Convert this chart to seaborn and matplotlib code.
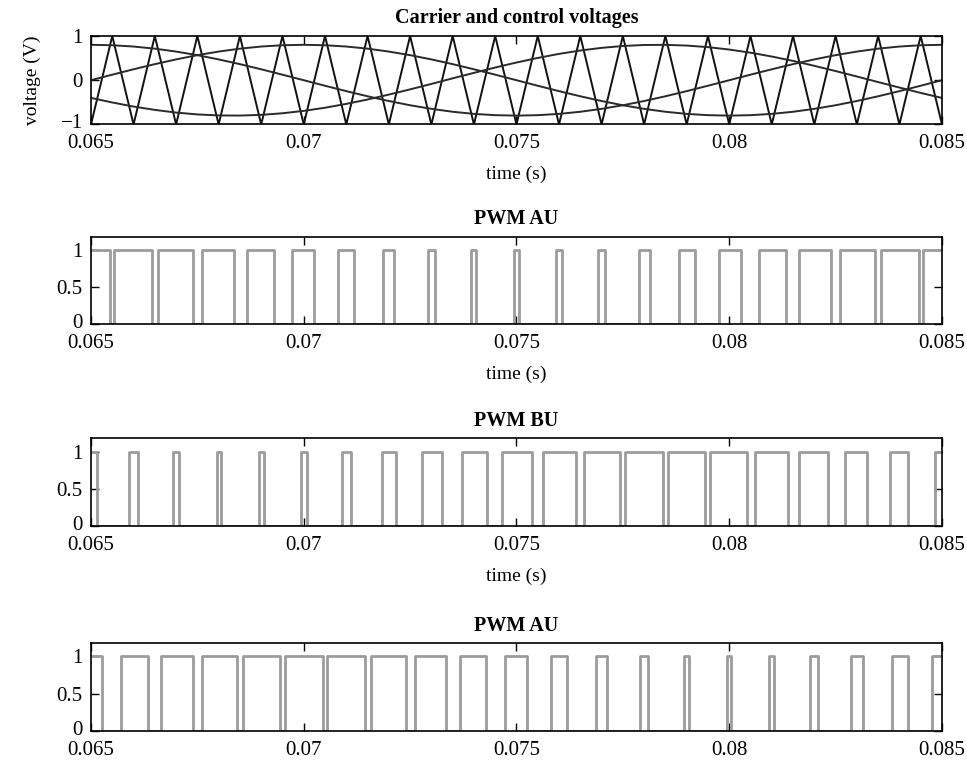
import numpy as np
import matplotlib
matplotlib.use("Agg")
import matplotlib.pyplot as plt
import matplotlib.transforms as mtransforms
import seaborn as sns

# time grid of the carrier corners and control samples (ms)
t_ms = [65.0, 65.5, 66.0, 66.5, 67.0, 67.5, 68.0, 68.5, 69.0, 69.5,
        70.0, 70.5, 71.0, 71.5, 72.0, 72.5, 73.0, 73.5, 74.0, 74.5,
        75.0, 75.5, 76.0, 76.5, 77.0, 77.5, 78.0, 78.5, 79.0, 79.5,
        80.0, 80.5, 81.0, 81.5, 82.0, 82.5, 83.0, 83.5, 84.0, 84.5, 85.0]

# triangular carrier corners (V)
carrier = [-1, 1, -1, 1, -1, 1, -1, 1, -1, 1,
           -1, 1, -1, 1, -1, 1, -1, 1, -1, 1,
           -1, 1, -1, 1, -1, 1, -1, 1, -1, 1,
           -1, 1, -1, 1, -1, 1, -1, 1, -1, 1, -1]

# control voltages (V)
ctrl_au = [0.800, 0.790, 0.761, 0.713, 0.647, 0.566, 0.470, 0.363, 0.247, 0.125,
           0.000, -0.125, -0.247, -0.363, -0.470, -0.566, -0.647, -0.713, -0.761, -0.790,
           -0.800, -0.790, -0.761, -0.713, -0.647, -0.566, -0.470, -0.363, -0.247, -0.125,
           0.000, 0.125, 0.247, 0.363, 0.470, 0.566, 0.647, 0.713, 0.761, 0.790, 0.800]
ctrl_bu = [-0.400, -0.503, -0.595, -0.671, -0.731, -0.773, -0.796, -0.799, -0.783, -0.747,
           -0.693, -0.622, -0.535, -0.436, -0.325, -0.207, -0.084, 0.042, 0.166, 0.287,
           0.400, 0.503, 0.595, 0.671, 0.731, 0.773, 0.796, 0.799, 0.783, 0.747,
           0.693, 0.622, 0.535, 0.436, 0.325, 0.207, 0.084, -0.042, -0.166, -0.287, -0.400]
ctrl_cu = [0.000, 0.125, 0.247, 0.363, 0.470, 0.566, 0.647, 0.713, 0.761, 0.790,
           0.800, 0.790, 0.761, 0.713, 0.647, 0.566, 0.470, 0.363, 0.247, 0.125,
           0.000, -0.125, -0.247, -0.363, -0.470, -0.566, -0.647, -0.713, -0.761, -0.790,
           -0.800, -0.790, -0.761, -0.713, -0.647, -0.566, -0.470, -0.363, -0.247, -0.125, 0.000]

# switching instants of the gate signals (ms), all start high
edges_au = [65.45, 65.55, 66.43, 66.57, 67.40, 67.61, 68.35, 68.67, 69.29, 69.73,
            70.24, 70.80, 71.18, 71.86, 72.13, 72.91, 73.09, 73.94, 74.06, 74.95,
            75.05, 75.94, 76.06, 76.91, 77.09, 77.87, 78.14, 78.82, 79.20, 79.76,
            80.27, 80.71, 81.33, 81.65, 82.39, 82.60, 83.43, 83.57, 84.45, 84.55]
edges_bu = [65.14, 65.89, 66.10, 66.93, 67.07, 67.95, 68.05, 68.95, 69.06, 69.93,
            70.08, 70.89, 71.12, 71.84, 72.18, 72.78, 73.24, 73.73, 74.31, 74.67,
            75.37, 75.62, 76.41, 76.58, 77.44, 77.56, 78.45, 78.55, 79.44, 79.56,
            80.41, 80.60, 81.37, 81.65, 82.31, 82.71, 83.25, 83.78, 84.20, 84.84]
edges_cu = [65.27, 65.71, 66.33, 66.65, 67.39, 67.60, 68.43, 68.57, 69.45, 69.55,
            70.45, 70.55, 71.43, 71.57, 72.40, 72.61, 73.35, 73.67, 74.29, 74.73,
            75.24, 75.80, 76.18, 76.86, 77.13, 77.91, 78.09, 78.94, 79.06, 79.95,
            80.05, 80.94, 81.06, 81.91, 82.09, 82.87, 83.14, 83.82, 84.20, 84.76]

titles = ["Carrier and control voltages", "PWM AU", "PWM BU", "PWM AU"]
x_ticks = [0.065, 0.07, 0.075, 0.08, 0.085]
x_ticklabels = ["0.065", "0.07", "0.075", "0.08", "0.085"]

sns.set_theme(style="ticks")
plt.rcParams["font.family"] = ["Liberation Serif", "DejaVu Serif"]
plt.rcParams.update({
    "font.size": 15,
    "text.color": "black",
    "axes.labelcolor": "black",
    "axes.edgecolor": "black",
    "axes.linewidth": 1.2,
    "xtick.color": "black",
    "ytick.color": "black",
    "xtick.labelsize": 15,
    "ytick.labelsize": 15,
    "xtick.direction": "in",
    "ytick.direction": "in",
    "xtick.top": True,
    "ytick.right": True,
    "xtick.major.size": 6,
    "ytick.major.size": 6,
    "xtick.major.width": 1.0,
    "ytick.major.width": 1.0,
    "xtick.major.pad": 7,
    "ytick.major.pad": 6,
})

t_s = np.array(t_ms) / 1000.0


def gate_steps(edges):
    # square wave: starts at 1 and toggles at every edge
    xs = [65.0] + edges + [85.0]
    ys = [(i + 1) % 2 for i in range(len(edges) + 1)]
    ys = ys + [ys[-1]]
    return np.array(xs) / 1000.0, np.array(ys)


fig = plt.figure(figsize=(9.67, 7.65), dpi=100)
boxes = [[0.0941, 0.8373, 0.8800, 0.1157],
         [0.0941, 0.5765, 0.8800, 0.1137],
         [0.0941, 0.3124, 0.8800, 0.1146],
         [0.0941, 0.0444, 0.8800, 0.1150]]
axes = [fig.add_axes(b) for b in boxes]

# carrier and control voltages
ax = axes[0]
sns.lineplot(x=t_s, y=carrier, ax=ax, color="#111111", lw=1.4, sort=False, estimator=None)
for c in (ctrl_au, ctrl_bu, ctrl_cu):
    sns.lineplot(x=t_s, y=c, ax=ax, color="#2a2a2a", lw=1.4, sort=False, estimator=None)
ax.set_ylim(-1, 1)
ax.set_yticks([-1, 0, 1])
ax.set_ylabel("voltage (V)", fontsize=14, labelpad=14)

# gate signals
for ax, edges in zip(axes[1:], (edges_au, edges_bu, edges_cu)):
    xs, ys = gate_steps(edges)
    sns.lineplot(x=xs, y=ys, ax=ax, color="#9c9c9c", lw=2.0, drawstyle="steps-post",
                 sort=False, estimator=None)
    ax.set_ylim(0, 1.18)
    ax.set_yticks([0, 0.5, 1])
    ax.set_yticklabels(["0", "0.5", "1"])

lift = mtransforms.ScaledTranslation(0, 2.5 / 72, fig.dpi_scale_trans)
for i, ax in enumerate(axes):
    ax.set_xlim(0.065, 0.085)
    ax.set_xticks(x_ticks)
    ax.set_xticklabels(x_ticklabels)
    ax.set_title(titles[i], fontsize=14.5, fontweight="bold", pad=9)
    if i < 3:
        ax.set_xlabel("time (s)", fontsize=14, labelpad=9)
    for s in ax.spines.values():
        s.set_visible(True)
        s.set_color("black")
    # lowest y label sits just above the corner x label
    low = ax.get_yticklabels()[0]
    low.set_transform(low.get_transform() + lift)

fig.savefig("out.png", dpi=100)
